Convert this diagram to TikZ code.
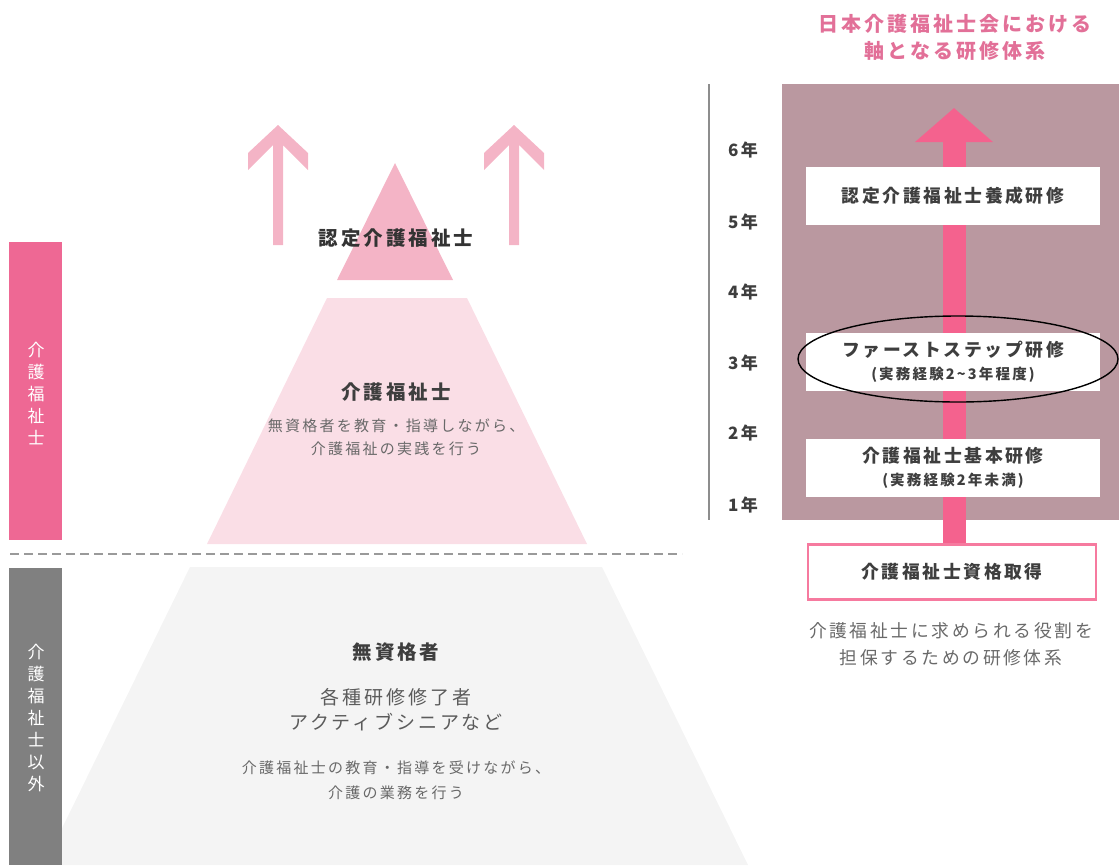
\documentclass[tikz,border=0pt]{standalone}
\usepackage{fontspec}
\setmainfont{Noto Sans CJK JP}[LetterSpace=15]
\usetikzlibrary{arrows.meta}

\definecolor{titlepink}{RGB}{226,112,152}
\definecolor{barpink}{RGB}{238,104,148}
\definecolor{mauve}{RGB}{186,152,160}
\definecolor{hotpink}{RGB}{244,98,142}
\definecolor{softpink}{RGB}{244,180,198}
\definecolor{palepink}{RGB}{250,222,230}
\definecolor{palegray}{RGB}{244,244,244}
\definecolor{bargray}{RGB}{128,128,128}
\definecolor{ink}{RGB}{62,62,62}
\definecolor{softink}{RGB}{105,105,105}

\begin{document}
\begin{tikzpicture}[x=1pt, y=-1pt,
  every node/.style = {inner sep=0pt, align=center},
  course/.style = {fill=white, minimum width=294pt, minimum height=58pt, text=ink,
    font=\bfseries\fontsize{17.8}{23}\selectfont},
  year/.style = {text=ink, font=\bfseries\fontsize{17}{18}\selectfont},
  head/.style = {text=ink, font=\bfseries\fontsize{19.5}{22}\selectfont},
  desc/.style = {text=softink, font=\fontsize{15}{25}\selectfont},
  vbar/.style = {text=white, font=\fontsize{17}{22}\selectfont}]
  \useasboundingbox (0,0) rectangle (1119,865);

  % pyramid
  \fill[palegray] (190,567) -- (602,567) -- (748,865) -- (44,865) -- cycle;
  \fill[palepink] (327,298) -- (467,298) -- (587,544) -- (207,544) -- cycle;
  \fill[softpink] (395,163) -- (453,280) -- (337,280) -- cycle;
  \fill[softpink] (278,125) -- ++(30,28) -- ++(0,17) -- ++(-25,-25) -- ++(0,100)
    -- ++(-10,0) -- ++(0,-100) -- ++(-25,25) -- ++(0,-17) -- cycle;
  \fill[softpink] (514,125) -- ++(30,28) -- ++(0,17) -- ++(-25,-25) -- ++(0,100)
    -- ++(-10,0) -- ++(0,-100) -- ++(-25,25) -- ++(0,-17) -- cycle;
  \draw[bargray!80, line width=2pt, dash pattern=on 9pt off 5pt] (10,554) -- (682,554);

  % side bars
  \fill[barpink] (9,242) rectangle (62,540);
  \fill[bargray] (9,568) rectangle (62,865);
  \node[vbar] (pro) at (36,394) {介\\護\\福\\祉\\士};
  \node[vbar] (other) at (36,718) {介\\護\\福\\祉\\士\\以\\外};

  \node[head, text=black!80] (cert) at (396,238) {認定介護福祉士};
  \node[head] (cw) at (396,392) {介護福祉士};
  \node[desc, font=\fontsize{15}{23}\selectfont] (cwdesc) at (396,437) {無資格者を教育・指導しながら、\\介護福祉の実践を行う};
  \node[head] (nq) at (396,652) {無資格者};
  \node[desc, font=\fontsize{19}{25}\selectfont, text=ink!85] (nqsub) at (396,710) {各種研修修了者\\アクティブシニアなど};
  \node[desc] (nqdesc) at (396,780) {介護福祉士の教育・指導を受けながら、\\介護の業務を行う};

  % training system
  \node[text=titlepink, font=\bfseries\fontsize{20}{27}\selectfont] (title) at (955,37) {日本介護福祉士会における\\軸となる研修体系};
  \fill[mauve] (782,84) rectangle (1119,520);
  \draw[bargray!90, line width=1.5pt] (709,84) -- (709,520);
  \node[year] (y6) at (743,150) {6年};
  \node[year] (y5) at (743,222) {5年};
  \node[year] (y4) at (743,292) {4年};
  \node[year] (y3) at (743,363) {3年};
  \node[year] (y2) at (743,433) {2年};
  \node[year] (y1) at (743,505) {1年};

  \node[course, fill=white, draw=hotpink!85, line width=2.5pt, minimum width=288pt, minimum height=55pt] (qual) at (952,572) {介護福祉士資格取得};
  \coordinate (top) at (954,108);
  \draw[hotpink, line width=23pt, -{Triangle[width=76pt,length=34pt]}] (top |- qual.north) -- (top);

  \node[course] (advanced) at (953,196) {認定介護福祉士養成研修};
  \node[course] (first) at (953,362) {ファーストステップ研修\\{\fontsize{14.5}{23}\selectfont (実務経験2\textasciitilde 3年程度)}};
  \node[course] (basic) at (953,468) {介護福祉士基本研修\\{\fontsize{14.5}{23}\selectfont (実務経験2年未満)}};
  \draw[line width=1.4pt] (958,359) ellipse [x radius=160pt, y radius=43pt];

  \node[text=softink, font=\fontsize{17.8}{27}\selectfont] (role) at (951,644) {介護福祉士に求められる役割を\\担保するための研修体系};
\end{tikzpicture}
\end{document}
